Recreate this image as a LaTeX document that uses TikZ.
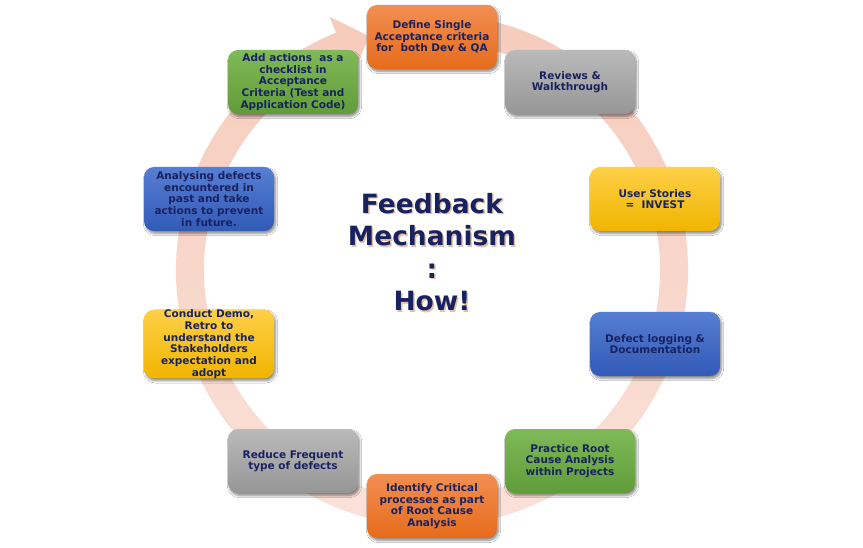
\documentclass[tikz,border=0pt]{standalone}
\usepackage{fontspec}
\setmainfont{DejaVu Sans}
\usetikzlibrary{shadows.blur}
\definecolor{navy}{RGB}{24,34,96}
\definecolor{ringtop}{RGB}{246,204,188}
\definecolor{ringbot}{RGB}{250,226,218}
\definecolor{orT}{RGB}{242,142,82}\definecolor{orB}{RGB}{230,108,28}
\definecolor{grT}{RGB}{186,186,186}\definecolor{grB}{RGB}{150,150,150}
\definecolor{yeT}{RGB}{255,208,72}\definecolor{yeB}{RGB}{240,180,0}
\definecolor{blT}{RGB}{86,126,210}\definecolor{blB}{RGB}{50,90,184}
\definecolor{gnT}{RGB}{128,186,88}\definecolor{gnB}{RGB}{96,156,56}
\definecolor{tshadow}{RGB}{205,150,105}
\tikzset{
  stepbox/.style={rounded corners=10pt, minimum width=130pt, minimum height=64pt,
    inner sep=0pt, align=center, text=navy,
    font=\fontsize{10.5}{11.7}\selectfont\bfseries,
    blur shadow={shadow xshift=1.5pt, shadow yshift=-2.5pt, shadow blur steps=6, shadow opacity=45}},
  orangebox/.style={stepbox, top color=orT, bottom color=orB},
  graybox/.style={stepbox, top color=grT, bottom color=grB},
  yellowbox/.style={stepbox, top color=yeT, bottom color=yeB},
  bluebox/.style={stepbox, top color=blT, bottom color=blB},
  greenbox/.style={stepbox, top color=gnT, bottom color=gnB},
  titletext/.style={align=center, font=\fontsize{26.5}{32.5}\selectfont\bfseries},
}
\begin{document}
\begin{tikzpicture}[x=1pt,y=1pt]
\useasboundingbox (0,0) rectangle (863,-548);
\fill[white] (0,0) rectangle (863,-548);
% circular arrow
\begin{scope}[shift={(432,-270)}]
\shade[top color=ringtop, bottom color=ringbot]
  (78:256pt) arc[start angle=78, end angle=-248, radius=256pt]
  -- (112:273pt) -- (105:242pt) -- (112:211pt) -- (112:228pt)
  arc[start angle=-248, end angle=78, radius=228pt] -- cycle;
\end{scope}
% title
\node[titletext, text=tshadow, opacity=0.6] (tsh) at (433.5,-253.5) {Feedback\\Mechanism\\:\\How!};
\node[titletext, text=navy] (title) at (432,-252) {Feedback\\Mechanism\\:\\How!};
% boxes
\node[orangebox] (b1) at (432,-37) {Define Single\\Acceptance criteria\\for~~both Dev \& QA};
\node[graybox] (b2) at (570,-82) {Reviews \&\\Walkthrough};
\node[yellowbox] (b3) at (655,-199) {User Stories\\=~~INVEST};
\node[bluebox] (b4) at (655,-344) {Defect logging \&\\Documentation};
\node[greenbox] (b5) at (570,-461) {Practice Root\\Cause Analysis\\within Projects};
\node[orangebox] (b6) at (432,-506) {Identify Critical\\processes as part\\of Root Cause\\Analysis};
\node[graybox] (b7) at (293,-461) {Reduce Frequent\\type of defects};
\node[yellowbox] (b8) at (209,-344) {Conduct Demo,\\Retro to\\understand the\\Stakeholders\\expectation and\\adopt};
\node[bluebox] (b9) at (209,-199) {Analysing defects\\encountered in\\past and take\\actions to prevent\\in future.};
\node[greenbox] (b10) at (293,-82) {Add actions~~as a\\checklist in\\Acceptance\\Criteria (Test and\\Application Code)};
\end{tikzpicture}
\end{document}
